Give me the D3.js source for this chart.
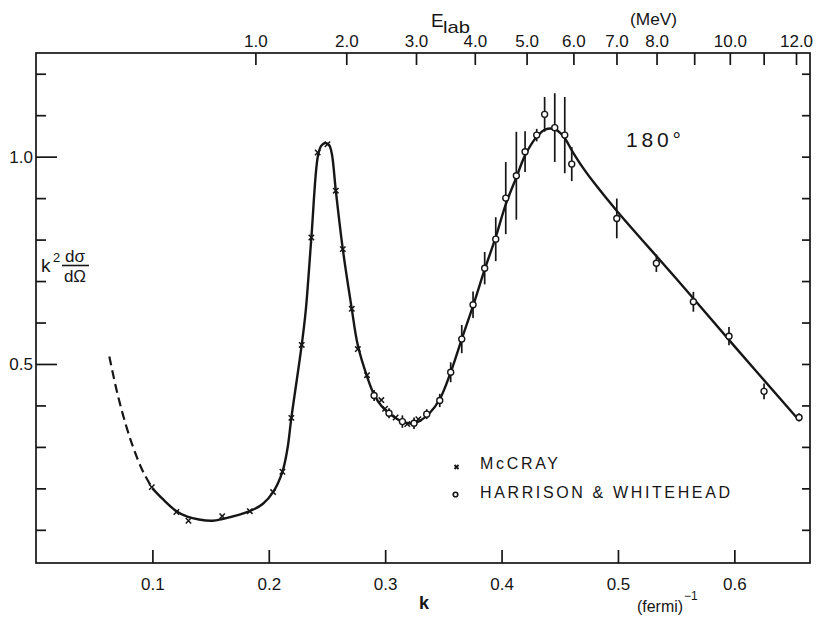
<!DOCTYPE html>
<html>
<head>
<meta charset="utf-8">
<script src="https://cdn.jsdelivr.net/npm/d3@7"></script>
<style>
  body { margin: 0; background: #fff; }
  svg { display: block; }
</style>
</head>
<body>
<svg id="grafico" width="824" height="622"></svg>
<script>
// valores (k em fermi^-1, k^2 dσ/dΩ)
const mccrayK = [0.0995, 0.1206, 0.131, 0.160, 0.1837, 0.2037, 0.2117, 0.2194, 0.2283, 0.2366,
  0.242, 0.2504, 0.2576, 0.2636, 0.2713, 0.2765, 0.2844, 0.2967, 0.2999, 0.309, 0.319, 0.3285];
const mccrayV = [0.203, 0.143, 0.122, 0.133, 0.145, 0.191, 0.240, 0.370, 0.546, 0.805,
  1.010, 1.030, 0.918, 0.777, 0.633, 0.536, 0.473, 0.413, 0.392, 0.371, 0.355, 0.367];

const hwK = [0.2905, 0.3033, 0.3148, 0.3248, 0.3357, 0.3469, 0.3563, 0.3658, 0.3755, 0.3855,
  0.395, 0.4036, 0.4127, 0.4202, 0.4302, 0.437, 0.4457, 0.4543, 0.4603, 0.499, 0.533, 0.5648,
  0.5954, 0.6255, 0.6556];
const hwV = [0.424, 0.381, 0.361, 0.357, 0.379, 0.412, 0.480, 0.560, 0.643, 0.731,
  0.801, 0.900, 0.954, 1.012, 1.052, 1.102, 1.070, 1.052, 0.982, 0.851, 0.743, 0.650,
  0.567, 0.434, 0.371];
const hwErr = [0.013, 0.012, 0.015, 0.014, 0.012, 0.016, 0.024, 0.034, 0.032, 0.039,
  0.053, 0.087, 0.106, 0.049, 0.015, 0.042, 0.083, 0.092, 0.041, 0.048, 0.021, 0.024,
  0.022, 0.019, 0.010];

// curva ajustada: trecho tracejado e trecho cheio
const dashK = [0.063, 0.070, 0.077, 0.084, 0.092, 0.100];
const dashV = [0.518, 0.428, 0.355, 0.295, 0.240, 0.200];
const fitK = [0.100, 0.1086, 0.1206, 0.130, 0.140, 0.1515, 0.160, 0.1837, 0.195, 0.2037,
  0.2117, 0.216, 0.2194, 0.2283, 0.2318, 0.2366, 0.2421, 0.245, 0.2484, 0.2518, 0.2541,
  0.2576, 0.2636, 0.2713, 0.2765, 0.2844, 0.2905, 0.297, 0.3033, 0.310, 0.3148, 0.320,
  0.3248, 0.330, 0.3377, 0.3469, 0.3563, 0.3658, 0.3755, 0.3855, 0.395, 0.4036, 0.4127,
  0.4202, 0.4302, 0.4379, 0.4465, 0.4537, 0.4608, 0.470, 0.480, 0.500, 0.550, 0.600, 0.655];
const fitV = [0.200, 0.175, 0.145, 0.132, 0.125, 0.122, 0.126, 0.145, 0.163, 0.191,
  0.240, 0.295, 0.370, 0.546, 0.630, 0.805, 1.000, 1.026, 1.033, 1.028, 1.008,
  0.918, 0.777, 0.633, 0.545, 0.470, 0.426, 0.398, 0.381, 0.368, 0.361, 0.357,
  0.357, 0.363, 0.380, 0.415, 0.480, 0.560, 0.640, 0.728, 0.806, 0.885, 0.950,
  1.003, 1.048, 1.066, 1.065, 1.047, 1.013, 0.973, 0.935, 0.866, 0.706, 0.543, 0.366];

const kTicks = [0.1, 0.2, 0.3, 0.4, 0.5, 0.6];
const yMajor = [0.5, 1.0];
const yMinor = [0.1, 0.2, 0.3, 0.4, 0.6, 0.7, 0.8, 0.9, 1.1, 1.2];
const yRight = [0.1, 0.2, 0.3, 0.4, 0.5, 0.6, 0.7, 0.8, 0.9, 1.0, 1.1, 1.2];
const eTicks = [1, 2, 3, 4, 5, 6, 7, 8, 9, 10, 11, 12];
const eRotulos = ["1.0", "2.0", "3.0", "4.0", "5.0", "6.0", "7.0", "8.0", "", "10.0", "", "12.0"];

const W = 824;
const H = 622;
const margin = { top: 53, right: 14, bottom: 59, left: 36 };
const plotW = W - margin.left - margin.right;
const plotH = H - margin.top - margin.bottom;
const tinta = "#161616";
const fonte = "'Liberation Sans', Arial, sans-serif";

const x = d3.scaleLinear().domain([0, 0.665]).range([0, plotW]);
const y = d3.scaleLinear().domain([0.02, 1.25]).range([plotH, 0]);
// E_lab (MeV) cresce com k^2: k ≈ 0.1885·sqrt(E)
const e = d3.scaleSqrt().domain([0, 13]).range([x(0), x(0.1885 * Math.sqrt(13))]);

const svg = d3.select("#grafico");
svg.append("rect").attr("width", W).attr("height", H).attr("fill", "#fff");
const g = svg.append("g").attr("transform", `translate(${margin.left},${margin.top})`);

const estilo = (sel) => {
  sel.select(".domain").remove();
  sel.selectAll("line").attr("stroke", tinta).attr("stroke-width", 1.7);
  sel.selectAll("text").attr("fill", tinta).attr("font-size", "17px").attr("font-family", fonte);
};

g.append("rect")
  .attr("width", plotW).attr("height", plotH)
  .attr("fill", "none").attr("stroke", tinta).attr("stroke-width", 1.7);

g.append("g")
  .attr("transform", `translate(0,${plotH})`)
  .call(d3.axisBottom(x).tickValues(kTicks).tickSize(-13).tickPadding(15).tickFormat(d3.format(".1f")))
  .call(estilo);

g.append("g")
  .call(d3.axisLeft(y).tickValues(yMajor).tickSize(-21).tickPadding(3).tickFormat(d3.format(".1f")))
  .call(estilo);
g.append("g")
  .call(d3.axisLeft(y).tickValues(yMinor).tickSize(-10).tickFormat(""))
  .call(estilo);
g.append("g")
  .attr("transform", `translate(${plotW},0)`)
  .call(d3.axisRight(y).tickValues(yRight).tickSize(-8).tickFormat(""))
  .call(estilo);

g.append("g")
  .call(d3.axisTop(e).tickValues(eTicks).tickSize(-12).tickPadding(6).tickFormat((d, i) => eRotulos[i]))
  .call(estilo);

// curva
const linha = d3.line().x((d) => x(d[0])).y((d) => y(d[1])).curve(d3.curveCatmullRom.alpha(0.5));
g.append("path")
  .attr("d", linha(d3.zip(dashK, dashV)))
  .attr("fill", "none").attr("stroke", tinta).attr("stroke-width", 2.2)
  .attr("stroke-dasharray", "9,5");
g.append("path")
  .attr("d", linha(d3.zip(fitK, fitV)))
  .attr("fill", "none").attr("stroke", tinta).attr("stroke-width", 2.4);

// McCray (x)
const cruz = "M-2.7,-2.7L2.7,2.7M-2.7,2.7L2.7,-2.7";
g.selectAll("path.mccray")
  .data(d3.zip(mccrayK, mccrayV))
  .join("path")
  .attr("class", "mccray")
  .attr("transform", (d) => `translate(${x(d[0])},${y(d[1])})`)
  .attr("d", cruz)
  .attr("stroke", tinta).attr("stroke-width", 1.5).attr("fill", "none");

// Harrison & Whitehead (o com barra de erro)
const hw = hwK.map((k, i) => ({ k, v: hwV[i], err: hwErr[i] }));
g.selectAll("line.erro")
  .data(hw)
  .join("line")
  .attr("class", "erro")
  .attr("x1", (d) => x(d.k)).attr("x2", (d) => x(d.k))
  .attr("y1", (d) => y(d.v - d.err)).attr("y2", (d) => y(d.v + d.err))
  .attr("stroke", tinta).attr("stroke-width", 1.7);
g.selectAll("circle.hw")
  .data(hw)
  .join("circle")
  .attr("class", "hw")
  .attr("cx", (d) => x(d.k)).attr("cy", (d) => y(d.v)).attr("r", 3)
  .attr("fill", "#fff").attr("stroke", tinta).attr("stroke-width", 1.4);

// textos
const texto = (px, py, t, tam, extra = {}) => {
  const el = svg.append("text")
    .attr("x", px).attr("y", py)
    .attr("fill", tinta).attr("font-family", fonte).attr("font-size", tam)
    .text(t);
  Object.entries(extra).forEach(([a, v]) => el.attr(a, v));
  return el;
};

texto(431, 27, "E", "19px");
texto(443, 33, "lab", "17px", { textLength: 27, lengthAdjust: "spacingAndGlyphs" });
texto(630, 25, "(MeV)", "17px", { textLength: 47, lengthAdjust: "spacingAndGlyphs" });

texto(424, 609, "k", "18px", { "text-anchor": "middle", "font-weight": "bold" });
texto(637, 612, "(fermi)", "17px", { textLength: 46, lengthAdjust: "spacingAndGlyphs" });
texto(684, 600, "−1", "12px");

texto(626, 147, "180°", "21px", { textLength: 55, lengthAdjust: "spacing" });

// rótulo do eixo y: k² dσ/dΩ
texto(41, 272, "k", "19px");
texto(53, 262, "2", "13px");
texto(75, 262, "dσ", "17px", { "text-anchor": "middle" });
svg.append("line")
  .attr("x1", 62).attr("x2", 89).attr("y1", 265.5).attr("y2", 265.5)
  .attr("stroke", tinta).attr("stroke-width", 1.6);
texto(75, 282, "dΩ", "17px", { "text-anchor": "middle" });

// legenda
svg.append("path")
  .attr("transform", "translate(456.5,467)")
  .attr("d", "M-2,-2L2,2M-2,2L2,-2")
  .attr("stroke", tinta).attr("stroke-width", 1.9);
texto(480, 469, "McCRAY", "16px", { textLength: 78, lengthAdjust: "spacing" });
svg.append("circle")
  .attr("cx", 455.5).attr("cy", 494.5).attr("r", 2.3)
  .attr("fill", "#fff").attr("stroke", tinta).attr("stroke-width", 1.6);
texto(480, 498, "HARRISON & WHITEHEAD", "16px", { textLength: 250, lengthAdjust: "spacing" });
</script>
</body>
</html>
